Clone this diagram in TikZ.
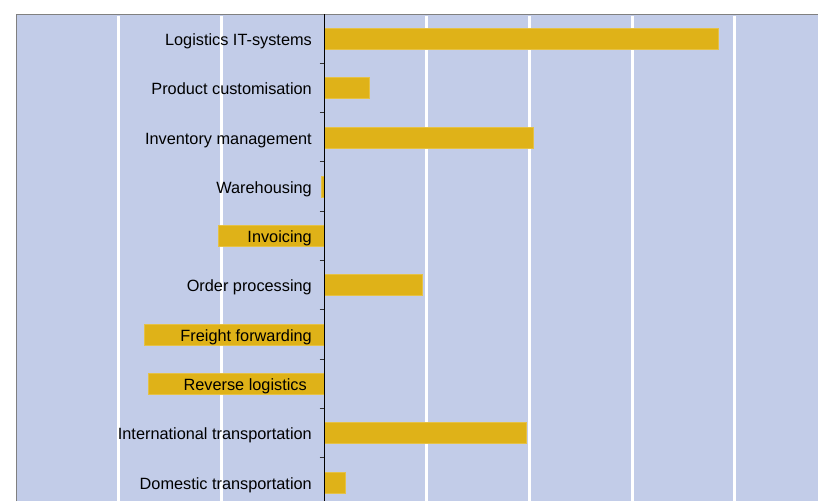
\documentclass[tikz,border=0pt]{standalone}
\usepackage{fontspec}
\setmainfont{Liberation Sans}
\definecolor{plotbg}{RGB}{194,204,232}
\definecolor{barfill}{RGB}{223,178,24}
\tikzstyle{barbox} = [fill=barfill, draw=barfill!80!white, line width=0.5pt]
\tikzstyle{gridline} = [white, line width=3pt]
\tikzstyle{catlabel} = [anchor=base east, inner sep=0pt, text=black, font=\fontsize{16.3}{19}\selectfont]

\begin{document}
\begin{tikzpicture}[x=1pt, y=-1pt]
		\useasboundingbox (0,0) rectangle (818,501);

		% plot area
		\fill[plotbg] (16.5,14.5) rectangle (818,501);
		\draw[gray, line width=1pt] (16.5,501) -- (16.5,14.5) -- (818,14.5);

		\foreach \x in {118.6,221.3,426.7,529.4,632.1,734.8}{
			\draw[gridline] (\x,15.5) -- (\x,501);
		}

		% bars: centre / start / end
		\foreach \y/\a/\b in {38.7/324/718, 88/324/369, 137.3/324/533, 186.6/321/324,
			235.9/218/324, 285.2/324/422, 334.5/144/324, 383.8/148/324,
			433.1/324/526, 482.4/324/345}{
			\draw[barbox] (\a,\y-10.5) rectangle (\b,\y+10.5);
		}

		% axis and ticks
		\draw[black, line width=1pt] (324,14) -- (324,501);
		\foreach \y in {63.3,112.6,161.9,211.2,260.5,309.8,359.1,408.4,457.7}{
			\draw[black!80, line width=1pt] (319.5,\y) -- (324,\y);
		}

		% category labels (on the baseline)
		\node[catlabel] (itsys) at (312,45.4) {Logistics IT-systems};
		\node[catlabel] (custom) at (312,94.7) {Product customisation};
		\node[catlabel] (invent) at (312,144) {Inventory management};
		\node[catlabel] (wareh) at (312,193.3) {Warehousing};
		\node[catlabel] (invoic) at (312,242.6) {Invoicing};
		\node[catlabel] (order) at (312,291.9) {Order processing};
		\node[catlabel] (freight) at (312,341.2) {Freight forwarding};
		\node[catlabel] (revlog) at (307,390.5) {Reverse logistics};
		\node[catlabel] (intl) at (312,439.8) {International transportation};
		\node[catlabel] (domest) at (312,489.1) {Domestic transportation};

	\end{tikzpicture}
\end{document}
